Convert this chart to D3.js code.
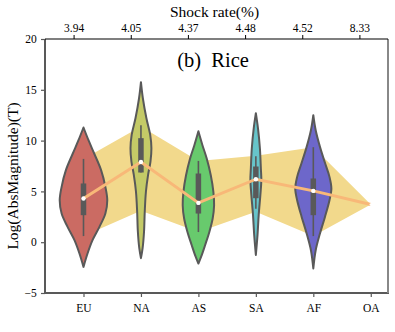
<!DOCTYPE html>
<html><head><meta charset="utf-8">
<script src="https://cdn.jsdelivr.net/npm/d3@7"></script>
<style>body{margin:0;background:#fff}svg{display:block}</style>
</head><body>
<svg id="c" width="395" height="332"></svg>
<script>
const categories = ["EU","NA","AS","SA","AF","OA"];
const shockRates = ["3.94","4.05","4.37","4.48","4.52","8.33"];
const yTicks = [-5,0,5,10,15,20];
const medians = [4.3, 7.9, 3.87, 6.2, 5.05, 3.71];
const q1 = [2.66, 6.86, 2.82, 4.33, 2.66];
const q3 = [5.78, 10.24, 6.76, 7.45, 6.27];
const whiskerLow = [0.6, 6.86, 1.0, 3.3, 0.6];
const whiskerHigh = [8.2, 11.5, 8.0, 8.45, 9.35];
const bandLow = [0.6, 3.1, 1.0, 3.0, 0.6, 3.71];
const bandHigh = [8.2, 11.4, 8.0, 8.5, 9.35, 3.71];
// violin profiles: [value, relative density]
const euProfile = [[11.29,0],[10.04,.21],[8.73,.45],[7.09,.74],[5.45,.92],[4.13,1],[2.82,.92],[1.51,.67],[0.2,.38],[-1.11,.17],[-2.43,0]];
const naProfile = [[15.75,0],[14.17,.08],[12.2,.23],[10.56,.39],[9.25,.44],[7.94,.40],[6.63,.30],[4.99,.21],[3.02,.16],[1.05,.13],[-0.59,.07],[-1.57,0]];
const asProfile = [[10.92,0],[9.55,.17],[8.24,.35],[6.59,.52],[4.95,.63],[3.64,.66],[2.33,.60],[1.01,.46],[-0.3,.28],[-1.4,.12],[-2.1,0]];
const saProfile = [[12.7,0],[11.2,.09],[9.25,.17],[7.28,.21],[6.13,.23],[4.66,.19],[2.69,.12],[0.72,.07],[-1.25,0]];
const afProfile = [[12.5,0],[11.02,.10],[9.38,.28],[7.74,.50],[6.43,.68],[5.28,.76],[4.13,.68],[2.49,.49],[0.86,.28],[-0.79,.10],[-2.59,0]];
const profiles = [euProfile, naProfile, asProfile, saProfile, afProfile];
const colors = ["#cb6b63","#c4ca67","#68ca6d","#67c4ca","#6d67ca"];

const svg = d3.select("#c");
const L = 45, R = 388, T = 39, B = 293;
const x = d3.scaleLinear().domain([-0.67, 5.3]).range([L, R]);
const xTop = d3.scaleLinear().domain([-0.5, 5.5]).range([L, R]);
const y = d3.scaleLinear().domain([-5, 20]).range([B, T]);
const w = d3.scaleLinear().domain([0, 1]).range([0, x(0.414) - x(0)]);
const serif = "'Liberation Serif','DejaVu Serif',serif";
const gray = "#595959";

// band
const idx = d3.range(categories.length);
svg.append("path")
  .attr("d", d3.area().x(i => x(i)).y0(i => y(bandLow[i])).y1(i => y(bandHigh[i]))(idx))
  .attr("fill", "#f2d98c");

// violins
profiles.forEach((p, i) => {
  const area = d3.area().curve(d3.curveCatmullRom)
    .y(d => y(d[0])).x0(d => x(i) - w(d[1])).x1(d => x(i) + w(d[1]));
  svg.append("path").attr("d", area(p))
    .attr("fill", colors[i]).attr("stroke", gray).attr("stroke-width", 2).attr("stroke-linejoin", "round");
  svg.append("line").attr("x1", x(i)).attr("x2", x(i))
    .attr("y1", y(whiskerLow[i])).attr("y2", y(whiskerHigh[i]))
    .attr("stroke", gray).attr("stroke-width", 1.6);
  svg.append("line").attr("x1", x(i)).attr("x2", x(i))
    .attr("y1", y(q1[i])).attr("y2", y(q3[i]))
    .attr("stroke", gray).attr("stroke-width", 5.5);
});

// median line
svg.append("path")
  .attr("d", d3.line().x(i => x(i)).y(i => y(medians[i]))(idx))
  .attr("fill", "none").attr("stroke", "#f8b878").attr("stroke-width", 3);
svg.selectAll(".med").data(idx.slice(0, 5)).join("circle")
  .attr("cx", i => x(i)).attr("cy", i => y(medians[i])).attr("r", 2.2)
  .attr("fill", "#fff");
svg.append("circle").attr("cx", x(5)).attr("cy", y(medians[5])).attr("r", 1.2).attr("fill", "#fff");

// axes
const gl = svg.append("g").attr("transform", `translate(${L},0)`)
  .call(d3.axisLeft(y).tickValues(yTicks).tickSize(4).tickFormat(d => d < 0 ? "\u2212" + Math.abs(d) : d));
const gb = svg.append("g").attr("transform", `translate(0,${B})`)
  .call(d3.axisBottom(x).tickValues(idx).tickSize(4).tickFormat(i => categories[i]));
const gt = svg.append("g").attr("transform", `translate(0,${T})`)
  .call(d3.axisTop(xTop).tickValues(idx).tickSize(4).tickFormat(i => shockRates[i]));
[gl, gb, gt].forEach(g => {
  g.selectAll("text").attr("font-family", serif).attr("font-size", 11.5).attr("fill", "#000");
  g.select(".domain").remove();
});
gl.selectAll("line").attr("stroke", gray).attr("stroke-width", 1.2);
gb.selectAll("line").attr("stroke", gray).attr("stroke-width", 1.2);
gt.selectAll("line").attr("stroke", "#000").attr("stroke-width", 1);
gl.selectAll("text").attr("dx", "-0.1em");
gb.selectAll("text").attr("dy", "1.0em");

// spines
svg.append("line").attr("x1", L).attr("x2", L).attr("y1", T).attr("y2", B).attr("stroke", gray).attr("stroke-width", 2);
svg.append("line").attr("x1", L - 1).attr("x2", R + 1).attr("y1", B).attr("y2", B).attr("stroke", gray).attr("stroke-width", 2);
svg.append("line").attr("x1", R).attr("x2", R).attr("y1", T).attr("y2", B).attr("stroke", "#888").attr("stroke-width", 2);
svg.append("line").attr("x1", L).attr("x2", R).attr("y1", T).attr("y2", T).attr("stroke", "#000").attr("stroke-width", 1.2);

// texts
svg.append("text").attr("x", 214.5).attr("y", 17).attr("text-anchor", "middle")
  .attr("font-family", serif).attr("font-size", 15.5).text("Shock rate(%)");
svg.append("text").attr("x", 213).attr("y", 67).attr("text-anchor", "middle")
  .attr("font-family", serif).attr("font-size", 20.5).style("white-space", "pre").text("(b)  Rice");
svg.append("text").attr("transform", "translate(18,176) rotate(-90)").attr("text-anchor", "middle")
  .attr("font-family", serif).attr("font-size", 15.5).text("Log(AbsMagnitude)(T)");
</script>
</body></html>
